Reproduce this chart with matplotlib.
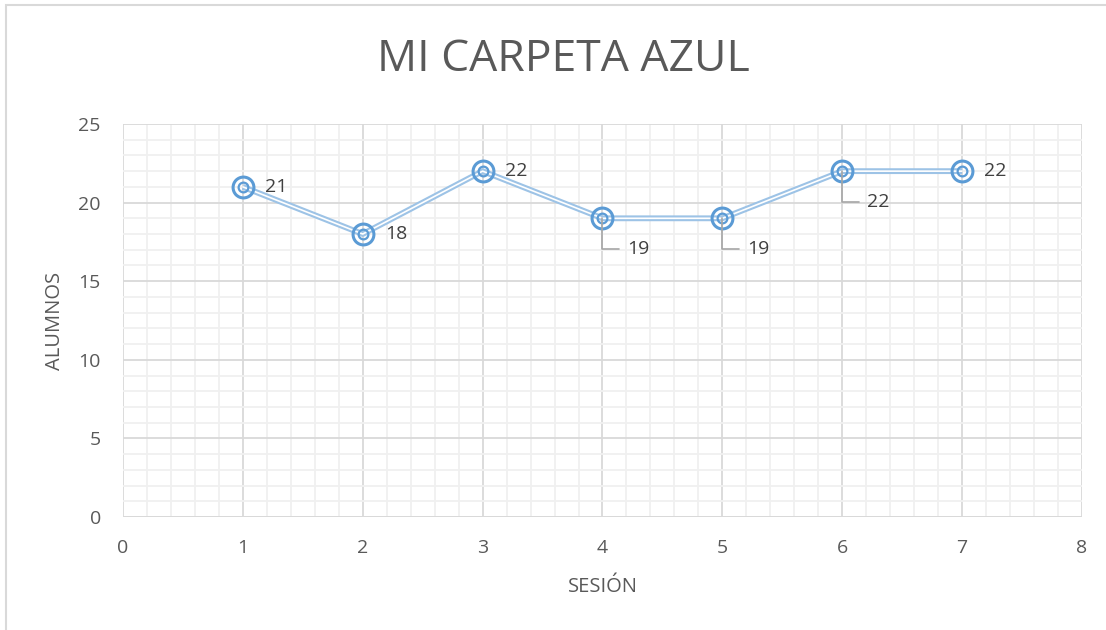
import numpy as np
import matplotlib.pyplot as plt
from matplotlib.patches import Rectangle
from matplotlib.ticker import MultipleLocator

# datos de la serie
sesion = [1, 2, 3, 4, 5, 6, 7]
alumnos = [21, 18, 22, 19, 19, 22, 22]
# etiquetas con linea guia (abajo a la derecha)
con_guia = [False, False, False, True, True, True, False]

plt.rcParams['font.family'] = ['Open Sans', 'DejaVu Sans']

fig = plt.figure(figsize=(11.06, 6.30), dpi=100)
ax = fig.add_axes([0.1112, 0.1794, 0.8671, 0.6238])

# marco del grafico (solo se ven los bordes izquierdo y superior)
fig.patches.append(Rectangle((0.005, -0.05), 1.1, 1.042, transform=fig.transFigure,
                             fill=False, edgecolor='#D9D9D9', linewidth=1.5))

ax.set_xlim(0, 8)
ax.set_ylim(0, 25)
ax.xaxis.set_major_locator(MultipleLocator(1))
ax.xaxis.set_minor_locator(MultipleLocator(0.2))
ax.yaxis.set_major_locator(MultipleLocator(5))
ax.yaxis.set_minor_locator(MultipleLocator(1))
ax.grid(which='major', color='#D9D9D9', linewidth=1.3)
ax.grid(which='minor', color='#F0F0F0', linewidth=1.3)
ax.set_axisbelow(True)
for s in ax.spines.values():
    s.set_visible(False)
ax.axhline(0, color='#D9D9D9', linewidth=1.3, zorder=1)
ax.tick_params(which='both', length=0, labelsize=14, labelcolor='#595959')
ax.tick_params(axis='y', pad=16)
ax.tick_params(axis='x', pad=16)

# linea doble
ax.plot(sesion, alumnos, color='#9DC3E6', linewidth=4.2, zorder=3, solid_capstyle='butt')
ax.plot(sesion, alumnos, color='white', linewidth=1.2, zorder=4, solid_capstyle='butt')
# marcadores de doble circulo
ax.plot(sesion, alumnos, linestyle='none', marker='o', markersize=15, markerfacecolor='none',
        markeredgecolor='#5B9BD5', markeredgewidth=2.2, zorder=5)
ax.plot(sesion, alumnos, linestyle='none', marker='o', markersize=7, markerfacecolor='none',
        markeredgecolor='#5B9BD5', markeredgewidth=1.6, zorder=5)

for x, y, g in zip(sesion, alumnos, con_guia):
    if g:
        ax.annotate(str(y), xy=(x, y), xytext=(18, -22), textcoords='offset points',
                    fontsize=14, color='#404040', va='center', ha='left', zorder=6,
                    arrowprops=dict(arrowstyle='-', color='#A6A6A6', linewidth=1.2,
                                    connectionstyle='angle,angleA=0,angleB=90,rad=0',
                                    shrinkA=4, shrinkB=0))
    else:
        ax.annotate(str(y), xy=(x, y), xytext=(16, 0), textcoords='offset points',
                    fontsize=14, color='#404040', va='center', ha='left', zorder=6)

ax.set_xlabel('SESIÓN', fontsize=14.5, color='#595959')
ax.set_ylabel('ALUMNOS', fontsize=14.5, color='#595959')
ax.xaxis.set_label_coords(0.5, -0.153)
ax.yaxis.set_label_coords(-0.060, 0.5)
fig.text(0.509, 0.905, 'MI CARPETA AZUL', ha='center', va='center', fontsize=32, color='#595959')

fig.savefig('out.png', dpi=100, facecolor='white')
